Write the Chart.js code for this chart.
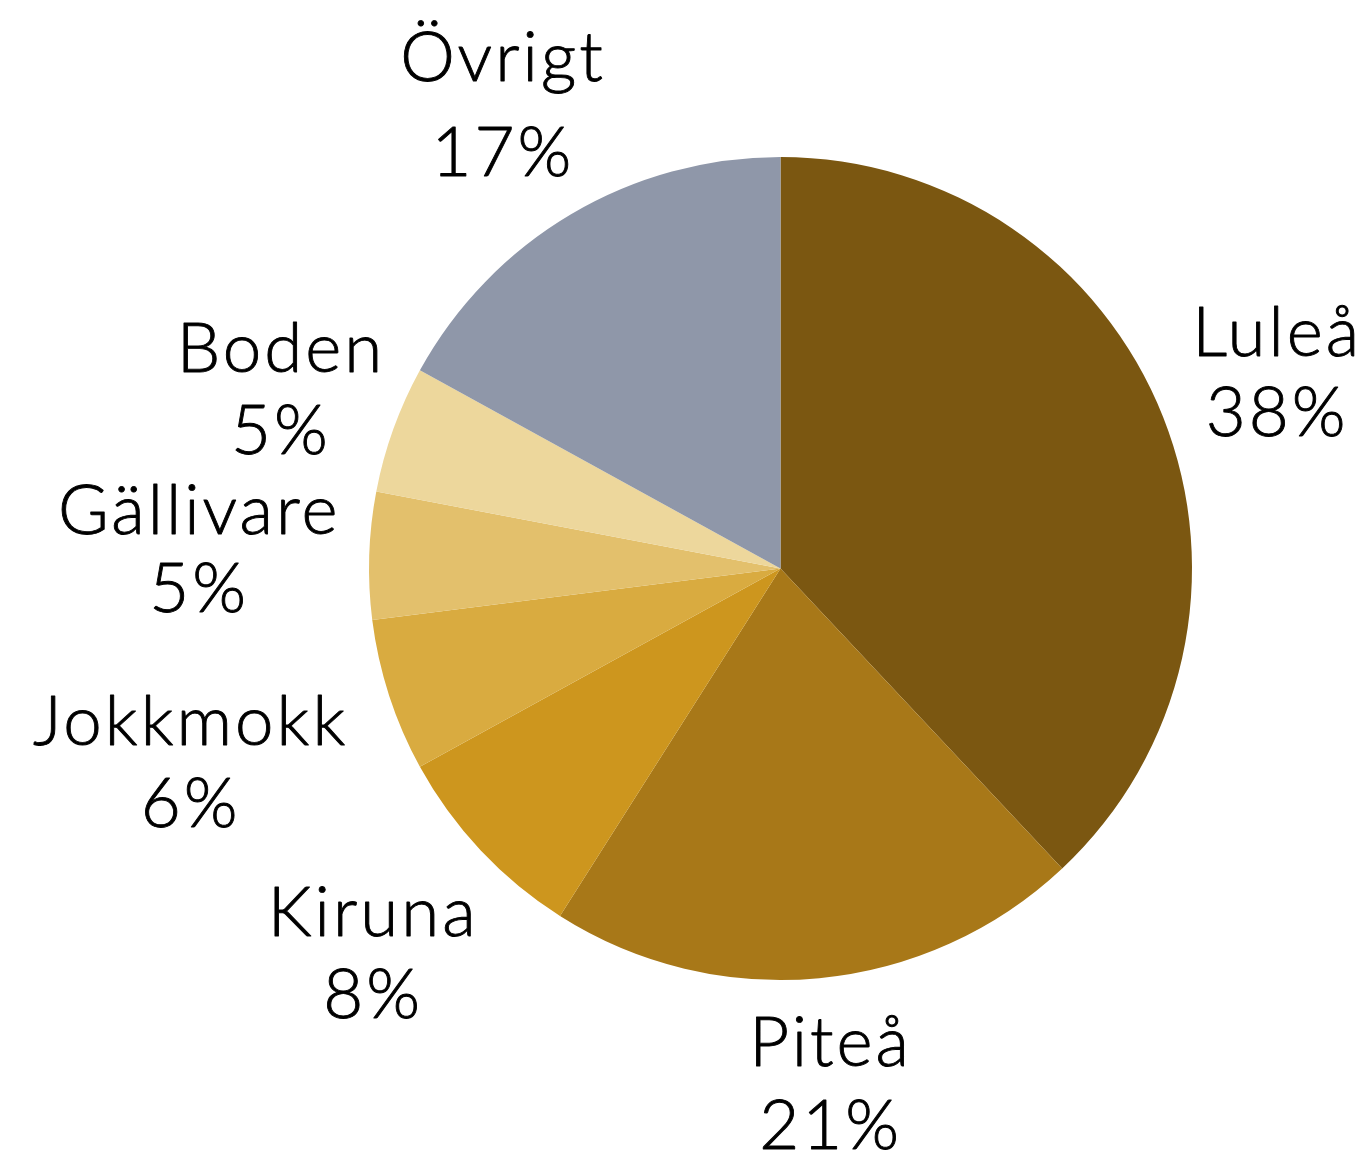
<!DOCTYPE html>
<html>
<head>
<meta charset="utf-8">
<script src="https://cdn.jsdelivr.net/npm/chart.js@4/dist/chart.umd.min.js"></script>
<style>
  html, body { margin: 0; padding: 0; background: #ffffff; }
  #wrap { width: 1369px; height: 1155px; }
</style>
</head>
<body>
<div id="wrap"><canvas id="c" width="1369" height="1155"></canvas></div>
<script>
// ---- data ----
const categories = ["Luleå", "Piteå", "Kiruna", "Jokkmokk", "Gällivare", "Boden", "Övrigt"];
const shares = [38, 21, 8, 6, 5, 5, 17];
const sliceColors = ["#7B5711", "#A87818", "#CD961E", "#D9AB40", "#E3C06C", "#EDD79C", "#8F97A9"];

// label placement styling (radial distance factor, line gap)
const labelRadius = [1.294, 1.254, 1.363, 1.511, 1.417, 1.294, 1.332];
const labelGap = [80, 83, 82, 82, 78, 82, 95];

const outsideLabels = {
  id: 'outsideLabels',
  afterDatasetsDraw(chart) {
    const ctx = chart.ctx;
    const meta = chart.getDatasetMeta(0);
    const total = shares.reduce((a, b) => a + b, 0);
    ctx.save();
    ctx.fillStyle = '#000000';
    ctx.strokeStyle = '#000000';
    ctx.lineWidth = 0.9;
    ctx.lineJoin = 'round';
    ctx.font = '300 69px Lato';
    ctx.letterSpacing = '3px';
    ctx.textAlign = 'center';
    ctx.textBaseline = 'alphabetic';
    meta.data.forEach((arc, i) => {
      const p = arc.getProps(['x', 'y', 'startAngle', 'endAngle', 'outerRadius'], true);
      const mid = (p.startAngle + p.endAngle) / 2;
      const r = p.outerRadius * labelRadius[i];
      const cx = p.x + Math.cos(mid) * r + 1.5;
      const cy = p.y + Math.sin(mid) * r;
      const gap = labelGap[i];
      const b1 = cy - 16;
      const pct = Math.round(shares[i] / total * 100) + '%';
      ctx.fillText(categories[i], cx, b1);
      ctx.strokeText(categories[i], cx, b1);
      ctx.fillText(pct, cx, b1 + gap);
      ctx.strokeText(pct, cx, b1 + gap);
    });
    ctx.restore();
  }
};

new Chart(document.getElementById('c'), {
  type: 'pie',
  data: {
    labels: categories,
    datasets: [{
      data: shares,
      backgroundColor: sliceColors,
      borderWidth: 0
    }]
  },
  options: {
    responsive: false,
    animation: false,
    layout: { padding: { left: 369, right: 177, top: 157, bottom: 175 } },
    plugins: {
      legend: { display: false },
      tooltip: { enabled: false }
    }
  },
  plugins: [outsideLabels]
});
</script>
</body>
</html>
